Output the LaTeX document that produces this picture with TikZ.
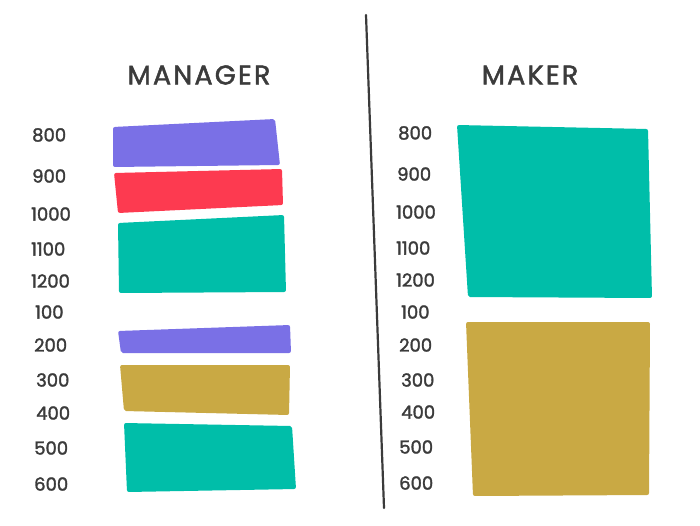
\documentclass[tikz,border=0pt]{standalone}
\usepackage{fontspec}
\setmainfont{Poppins}
\newfontfamily\penfont{Poppins}[FakeBold=1.8]
\newfontfamily\titlefont{Poppins}[FakeBold=1.8, LetterSpace=8]
\usetikzlibrary{positioning}
\definecolor{meetpurple}{HTML}{7A70E6}
\definecolor{meetred}{HTML}{FD3A50}
\definecolor{workteal}{HTML}{00BEA9}
\definecolor{workgold}{HTML}{C9A944}
\definecolor{pen}{HTML}{3B3B3B}
\begin{document}
\begin{tikzpicture}[
  x=1pt, y=-1pt,
  title/.style = {font=\titlefont\fontsize{27}{30}\selectfont, text=pen, inner sep=0pt},
  hour/.style  = {font=\penfont\fontsize{18}{20}\selectfont, text=pen, inner sep=0pt, anchor=west},
  bar/.style   = {rounded corners=2pt, line join=round},
]
\useasboundingbox (0,0) rectangle (700,525);

% titles
\node[title] (manager) at (199,75) {MANAGER};
\node[title] (maker)   at (530,75) {MAKER};

% divider
\coordinate (div-top) at (366,15);
\coordinate (div-bot) at (384,508);
\draw[pen, line width=2.2pt, line cap=round] (div-top) -- (div-bot);

% manager hours
\node[hour] (m800)  at (32,135) {800};
\node[hour] (m900)  at (32,176) {900};
\node[hour] (m1000) at (31,214) {1000};
\node[hour] (m1100) at (31,249) {1100};
\node[hour] (m1200) at (31,281) {1200};
\node[hour] (m100)  at (35,312) {100};
\node[hour] (m200)  at (34,345) {200};
\node[hour] (m300)  at (36,380) {300};
\node[hour] (m400)  at (36,413) {400};
\node[hour] (m500)  at (34,448) {500};
\node[hour] (m600)  at (34,484) {600};

% maker hours
\node[hour] (k800)  at (398,133) {800};
\node[hour] (k900)  at (397,174) {900};
\node[hour] (k1000) at (396,212) {1000};
\node[hour] (k1100) at (396,248) {1100};
\node[hour] (k1200) at (396,280) {1200};
\node[hour] (k100)  at (401,312) {100};
\node[hour] (k200)  at (399,345) {200};
\node[hour] (k300)  at (401,380) {300};
\node[hour] (k400)  at (401,412) {400};
\node[hour] (k500)  at (399,447) {500};
\node[hour] (k600)  at (399,483) {600};

% manager blocks
\fill[bar, meetpurple] (113,127) -- (275,119) -- (280,165) -- (113,167) -- cycle;
\fill[bar, meetred]    (114,173) -- (282,169) -- (283,205) -- (118,213) -- cycle;
\fill[bar, workteal]   (118,223) -- (284,215) -- (286,292) -- (119,293) -- cycle;
\fill[bar, meetpurple] (118,331) -- (290,325) -- (291,353) -- (121,353) -- cycle;
\fill[bar, workgold]   (120,365) -- (290,365) -- (289,415) -- (124,411) -- cycle;
\fill[bar, workteal]   (124,423) -- (292,426) -- (296,489) -- (127,492) -- cycle;

% maker blocks
\fill[bar, workteal]   (457,125) -- (648,129) -- (652,298) -- (468,297) -- cycle;
\fill[bar, workgold]   (466,322) -- (650,322) -- (649,495) -- (473,496) -- cycle;

\end{tikzpicture}
\end{document}
